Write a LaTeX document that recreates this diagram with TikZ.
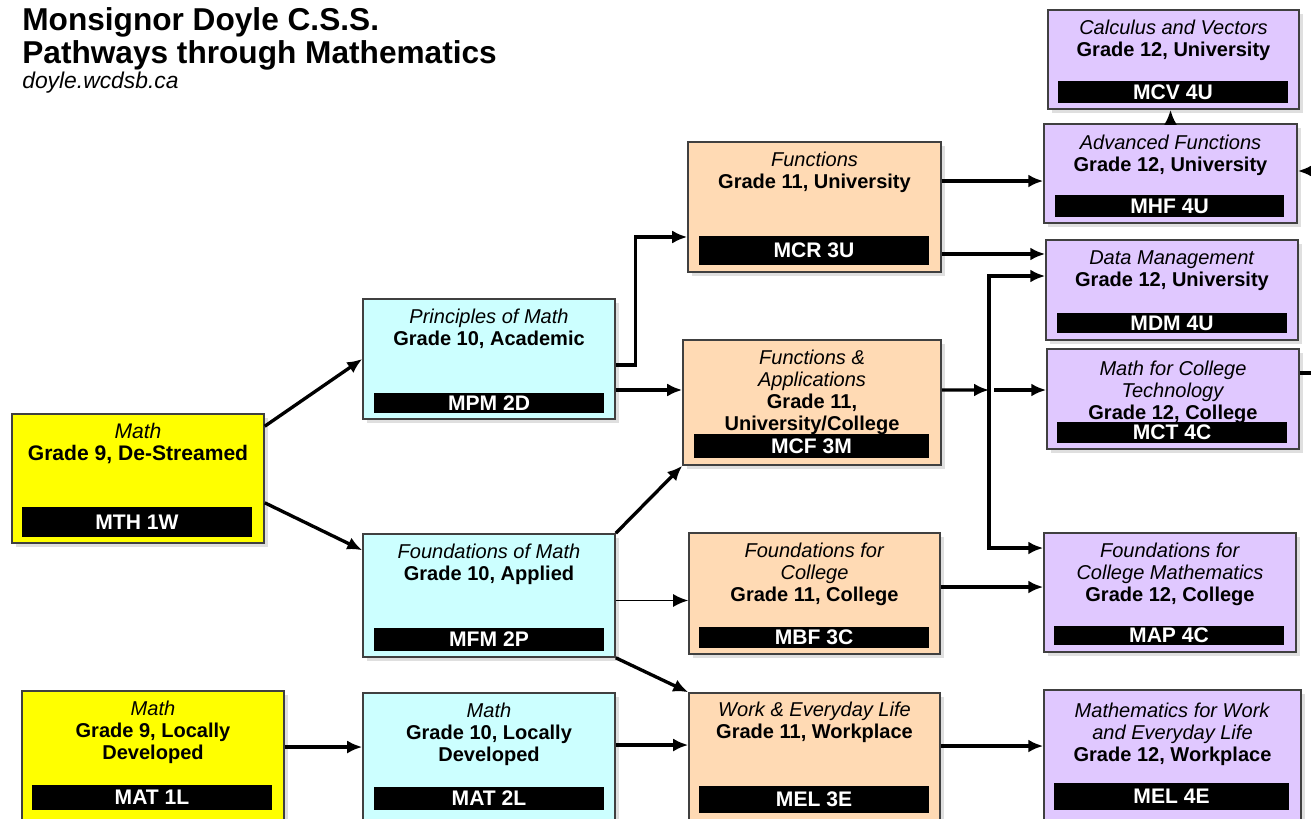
\documentclass[tikz,border=0pt]{standalone}
\usepackage{fontspec}
\setmainfont{Liberation Sans}
\usetikzlibrary{arrows.meta,shadows}

\definecolor{gnine}{HTML}{FFFF00}
\definecolor{gten}{HTML}{CCFFFF}
\definecolor{geleven}{HTML}{FFDAB4}
\definecolor{gtwelve}{HTML}{E0C8FF}

\tikzset{
  course/.style={draw=black!75, line width=0.9pt, inner sep=0pt,
    drop shadow={shadow xshift=0.08cm, shadow yshift=-0.08cm, opacity=0.25}},
  code/.style={fill=black, inner sep=0pt, text=white,
    font=\fontsize{12}{14}\selectfont\bfseries},
  info/.style={anchor=north, align=center, inner sep=0pt,
    font=\fontsize{11.4}{12.5}\selectfont},
  link/.style={line width=1.9pt, -{Latex[length=0.3cm,width=0.26cm]}},
}

\begin{document}
\begin{tikzpicture}[x=0.02cm, y=-0.02cm]
	\useasboundingbox (0,0) rectangle (1311,818);
	\clip (0,0) rectangle (1311,818);
	\fill[white] (0,0) rectangle (1311,818);

	% heading
	\node[anchor=base west, inner sep=0pt, font=\fontsize{18}{20}\selectfont\bfseries] (head1) at (22,31) {Monsignor Doyle C.S.S.};
	\node[anchor=base west, inner sep=0pt, font=\fontsize{18}{20}\selectfont\bfseries] (head2) at (22,63) {Pathways through Mathematics};
	\node[anchor=base west, inner sep=0pt, font=\fontsize{13}{15}\selectfont\itshape] (site) at (22,88) {doyle.wcdsb.ca};

	% grade 9
	\node[course, fill=gnine, minimum width=5.04cm, minimum height=2.58cm] (mth) at (138,478.5) {};
	\node[code, minimum width=4.60cm, minimum height=0.60cm] (mthcode) at (137,522) {MTH 1W};
	\node[info, font=\fontsize{12}{12.5}\selectfont] (mthtext) at (138,423) {\strut\textit{Math}\\\textbf{Grade 9, De-Streamed}};

	\node[course, fill=gnine, minimum width=5.24cm, minimum height=2.58cm] (mat1) at (153,755.5) {};
	\node[code, minimum width=4.80cm, minimum height=0.50cm] (mat1code) at (152,797.5) {MAT 1L};
	\node[info] (mat1text) at (153,700) {\strut\textit{Math}\\\textbf{Grade 9, Locally}\\\textbf{Developed}};

	% grade 10
	\node[course, fill=gten, minimum width=5.04cm, minimum height=2.40cm] (mpm) at (489,359) {};
	\node[code, minimum width=4.60cm, minimum height=0.40cm] (mpmcode) at (489,403) {MPM 2D};
	\node[info] (mpmtext) at (489,308) {\strut\textit{Principles of Math}\\\textbf{Grade 10, Academic}};

	\node[course, fill=gten, minimum width=5.04cm, minimum height=2.46cm] (mfm) at (489,595.5) {};
	\node[code, minimum width=4.60cm, minimum height=0.46cm] (mfmcode) at (489,639.5) {MFM 2P};
	\node[info] (mfmtext) at (489,543) {\strut\textit{Foundations of Math}\\\textbf{Grade 10, Applied}};

	\node[course, fill=gten, minimum width=5.04cm, minimum height=2.54cm] (mat2) at (489,756.5) {};
	\node[code, minimum width=4.60cm, minimum height=0.46cm] (mat2code) at (489,798.5) {MAT 2L};
	\node[info] (mat2text) at (489,702) {\strut\textit{Math}\\\textbf{Grade 10, Locally}\\\textbf{Developed}};

	% grade 11
	\node[course, fill=geleven, minimum width=5.06cm, minimum height=2.60cm] (mcr) at (814.5,207) {};
	\node[code, minimum width=4.60cm, minimum height=0.58cm] (mcrcode) at (814,250.5) {MCR 3U};
	\node[info] (mcrtext) at (814.5,151) {\strut\textit{Functions}\\\textbf{Grade 11, University}};

	\node[course, fill=geleven, minimum width=5.16cm, minimum height=2.50cm] (mcf) at (812,402.5) {};
	\node[code, minimum width=4.70cm, minimum height=0.48cm] (mcfcode) at (811.5,446) {MCF 3M};
	\node[info] (mcftext) at (812,349) {\strut\textit{Functions \&}\\\textit{Applications}\\\textbf{Grade 11,}\\\textbf{University/College}};

	\node[course, fill=geleven, minimum width=5.02cm, minimum height=2.42cm] (mbf) at (814.5,593.5) {};
	\node[code, minimum width=4.60cm, minimum height=0.42cm] (mbfcode) at (814,637.5) {MBF 3C};
	\node[info] (mbftext) at (814.5,542) {\strut\textit{Foundations for}\\\textit{College}\\\textbf{Grade 11, College}};

	\node[course, fill=geleven, minimum width=5.02cm, minimum height=2.54cm] (mel3) at (814.5,756.5) {};
	\node[code, minimum width=4.60cm, minimum height=0.54cm] (mel3code) at (814,799.5) {MEL 3E};
	\node[info] (mel3text) at (814.5,701) {\strut\textit{Work \& Everyday Life}\\\textbf{Grade 11, Workplace}};

	% grade 12
	\node[course, fill=gtwelve, minimum width=5.02cm, minimum height=1.98cm] (mcv) at (1173.5,59.5) {};
	\node[code, minimum width=4.60cm, minimum height=0.44cm] (mcvcode) at (1173,92) {MCV 4U};
	\node[info] (mcvtext) at (1173.5,19) {\strut\textit{Calculus and Vectors}\\\textbf{Grade 12, University}};

	\node[course, fill=gtwelve, minimum width=5.06cm, minimum height=1.98cm] (mhf) at (1170.5,173.5) {};
	\node[code, minimum width=4.58cm, minimum height=0.44cm] (mhfcode) at (1169.5,206) {MHF 4U};
	\node[info] (mhftext) at (1170.5,134) {\strut\textit{Advanced Functions}\\\textbf{Grade 12, University}};

	\node[course, fill=gtwelve, minimum width=5.04cm, minimum height=2.00cm] (mdm) at (1172,290) {};
	\node[code, minimum width=4.60cm, minimum height=0.40cm] (mdmcode) at (1172,323) {MDM 4U};
	\node[info] (mdmtext) at (1172,249) {\strut\textit{Data Management}\\\textbf{Grade 12, University}};

	\node[course, fill=gtwelve, minimum width=5.04cm, minimum height=2.00cm] (mct) at (1173,399) {};
	\node[code, minimum width=4.60cm, minimum height=0.42cm] (mctcode) at (1172,432.5) {MCT 4C};
	\node[info] (mcttext) at (1173,360) {\strut\textit{Math for College}\\\textit{Technology}\\\textbf{Grade 12, College}};

	\node[course, fill=gtwelve, minimum width=5.04cm, minimum height=2.38cm] (map) at (1170,592.5) {};
	\node[code, minimum width=4.60cm, minimum height=0.38cm] (mapcode) at (1169,635.5) {MAP 4C};
	\node[info] (maptext) at (1170,542) {\strut\textit{Foundations for}\\\textit{College Mathematics}\\\textbf{Grade 12, College}};

	\node[course, fill=gtwelve, minimum width=5.14cm, minimum height=2.60cm] (mel4) at (1172.5,755) {};
	\node[code, minimum width=4.70cm, minimum height=0.54cm] (mel4code) at (1171.5,796.5) {MEL 4E};
	\node[info] (mel4text) at (1172.5,702) {\strut\textit{Mathematics for Work}\\\textit{and Everyday Life}\\\textbf{Grade 12, Workplace}};

	% grade 9 to grade 10
	\draw[link] ([yshift=-0.26cm]mth.north east) -- (mpm.west);
	\draw[link] ([yshift=0.82cm]mth.south east) -- ([yshift=-0.34cm]mfm.north west);
	\coordinate (s1) at ([yshift=0.17cm]mat1.east);
	\draw[link] (s1) -- (s1 -| mat2.west);

	% grade 10 to grade 11
	\draw[link] ([yshift=-0.12cm]mpm.east) -- ++(0.4cm,0) |- ([yshift=-0.6cm]mcr.west);
	\coordinate (s2) at ([yshift=-0.62cm]mpm.east);
	\draw[link] (s2) -- (s2 -| mcf.west);
	\draw[link] (mfm.north east) -- (mcf.south west);
	\coordinate (s3) at ([yshift=-0.1cm]mfm.east);
	\draw[link, line width=1.1pt] (s3) -- (s3 -| mbf.west);
	\draw[link] (mfm.south east) -- (mel3.north west);
	\coordinate (s4) at ([yshift=0.23cm]mat2.east);
	\draw[link] (s4) -- (s4 -| mel3.west);

	% grade 11 to grade 12
	\coordinate (s5) at ([yshift=0.52cm]mcr.east);
	\draw[link] (s5) -- (s5 -| mhf.west);
	\coordinate (s6) at ([yshift=-0.94cm]mcr.east);
	\draw[link] (s6) -- (s6 -| mdm.west);
	\coordinate (bustop) at (989,276);
	\coordinate (busmid) at (989,390);
	\coordinate (busbot) at (989,548);
	\draw[link] ([yshift=0.25cm]mcf.east) -- (busmid);
	\draw[link] (busmid) -- (bustop) -- (bustop -| mdm.west);
	\draw[link] (busmid) -- (busbot) -- (busbot -| map.west);
	\draw[link] ([xshift=0.1cm]busmid) -- (busmid -| mct.west);
	\coordinate (s7) at ([yshift=0.13cm]mbf.east);
	\draw[link] (s7) -- (s7 -| map.west);
	\coordinate (s8) at ([yshift=0.21cm]mel3.east);
	\draw[link] (s8) -- (s8 -| mel4.west);
	\draw[link] (mhf.north) -- (mhf.north |- mcv.south);
	\coordinate (edge1) at (1311,171);
	\draw[link] (edge1) -- (edge1 -| mhf.east);
	\coordinate (edge2) at (1311,373);
	\draw[line width=1.9pt] (edge2 -| mct.east) -- (edge2);
\end{tikzpicture}
\end{document}
